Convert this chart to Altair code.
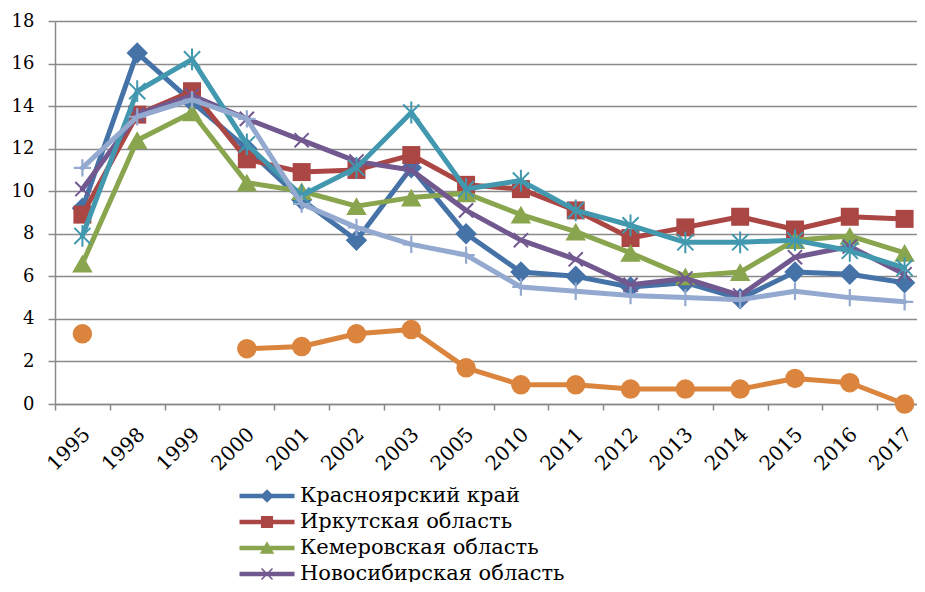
import altair as alt
import pandas as pd

years = ["1995", "1998", "1999", "2000", "2001", "2002", "2003", "2005",
         "2010", "2011", "2012", "2013", "2014", "2015", "2016", "2017"]
names = ["Красноярский край", "Иркутская область", "Кемеровская область",
         "Новосибирская область", "Омская область", "Томская область", "Алтайский край"]

krasnoyarsk = [9.2, 16.5, 14.2, 12.0, 9.6, 7.7, 11.1, 8.0, 6.2, 6.0, 5.5, 5.7, 4.95, 6.2, 6.1, 5.7]
irkutsk = [8.9, 13.6, 14.7, 11.5, 10.9, 11.0, 11.7, 10.3, 10.1, 9.1, 7.8, 8.3, 8.8, 8.2, 8.8, 8.7]
kemerovo = [6.6, 12.4, 13.7, 10.4, 10.0, 9.3, 9.7, 9.9, 8.9, 8.1, 7.1, 6.0, 6.2, 7.7, 7.9, 7.1]
novosibirsk = [10.1, 13.6, 14.5, 13.4, 12.4, 11.4, 11.0, 9.1, 7.7, 6.8, 5.6, 5.9, 5.1, 6.9, 7.4, 6.1]
series5 = [7.9, 14.7, 16.2, 12.2, 9.8, 11.1, 13.7, 10.1, 10.5, 9.1, 8.4, 7.6, 7.6, 7.7, 7.2, 6.4]
series6 = [3.3, None, None, 2.6, 2.7, 3.3, 3.5, 1.7, 0.9, 0.9, 0.7, 0.7, 0.7, 1.2, 1.0, 0.0]
series7 = [11.1, 13.5, 14.3, 13.4, 9.4, 8.3, 7.5, 7.0, 5.5, 5.3, 5.1, 5.0, 4.9, 5.3, 5.0, 4.8]

all_values = [krasnoyarsk, irkutsk, kemerovo, novosibirsk, series5, series6, series7]
colors = ["#4572A7", "#AA4643", "#89A54E", "#71588F", "#4198AF", "#DB843D", "#93A9CF"]

# marker styles per series: (shape, size, filled, strokeWidth)
markers = [
    ("diamond", 460, True, 0),
    ("square", 324, True, 0),
    ("triangle-up", 420, True, 0),
    ("M-1,-1L1,1M-1,1L1,-1", 200, False, 2),
    ("M-1,-1L1,1M-1,1L1,-1M0,-1.35L0,1.35", 260, False, 2),
    ("circle", 380, True, 0),
    ("M-1,0L1,0M0,-1L0,1", 300, False, 2.2),
]

line_bar = "M-2.5,-0.21H2.5V0.21H-2.5Z"
legend_paths = [
    line_bar + "M0,-0.62L0.62,0L0,0.62L-0.62,0Z",
    line_bar + "M-0.55,-0.55H0.55V0.55H-0.55Z",
    line_bar + "M0,-0.62L0.66,0.52H-0.66Z",
    line_bar + "M-0.55,-0.45L-0.45,-0.55L0.55,0.45L0.45,0.55Z"
               "M0.45,-0.55L0.55,-0.45L-0.45,0.55L-0.55,0.45Z",
    line_bar + "M-0.5,-0.5L0.5,0.5",
    line_bar + "M-0.5,0A0.5,0.5 0 1,1 0.5,0A0.5,0.5 0 1,1 -0.5,0Z",
    line_bar,
]

rows = []
for name, vals in zip(names, all_values):
    seg = 0
    gap = False
    for yr, v in zip(years, vals):
        if v is None:
            gap = True
            continue
        if gap:
            seg += 1
            gap = False
        rows.append({"year": yr, "series": name, "value": v, "seg": seg})
df = pd.DataFrame(rows)

FONT = "DejaVu Serif"
GRID = "#8A8A8A"

x_enc = alt.X(
    "year:O", sort=years,
    scale=alt.Scale(type="band", domain=years, paddingInner=0, paddingOuter=0, range=[0, 877]),
    bandPosition=0.5,
    axis=alt.Axis(title=None, labelAngle=-45, labelAlign="right", labelBaseline="middle",
                  tickBand="extent", grid=False, domainColor=GRID, domainWidth=1.5,
                  tickColor=GRID, tickWidth=1.5, tickSize=6, labelPadding=21, labelOffset=4,
                  labelFont=FONT, labelFontSize=20, labelColor="black"),
)
y_enc = alt.Y(
    "value:Q",
    scale=alt.Scale(domain=[0, 18], nice=False, zero=True),
    axis=alt.Axis(title=None, values=list(range(0, 19, 2)), grid=True, gridColor=GRID,
                  gridWidth=1.5, domainColor=GRID, domainWidth=1.5, tickColor=GRID,
                  tickWidth=1.5, tickSize=7, labelPadding=14, labelFont=FONT,
                  labelFontSize=18, labelColor="black"),
)

layers = []
for i, name in enumerate(names):
    sub = df[df["series"] == name]
    shape, size, filled, sw = markers[i]
    layers.append(
        alt.Chart(sub).mark_line(color=colors[i], strokeWidth=5, strokeJoin="round",
                                 strokeCap="round").encode(x=x_enc, y=y_enc, detail="seg:N")
    )
    if filled:
        pt = alt.Chart(sub).mark_point(shape=shape, size=size, filled=True, fill=colors[i],
                                       opacity=1, strokeWidth=0)
    else:
        pt = alt.Chart(sub).mark_point(shape=shape, size=size, filled=False, stroke=colors[i],
                                       opacity=1, strokeWidth=sw)
    layers.append(pt.encode(x=x_enc, y=y_enc))

legend = alt.Legend(title=None, orient="none", legendX=201, legendY=464, values=names[:4],
                    symbolSize=484, symbolStrokeWidth=0, symbolOpacity=1, labelFont=FONT,
                    labelFontSize=21, labelColor="black", labelOffset=22, rowPadding=5,
                    padding=0, labelLimit=0)

legend_layer = alt.Chart(df).transform_filter("datum.value > 100").mark_point(
    filled=True, opacity=1
).encode(
    x=x_enc, y=y_enc,
    color=alt.Color("series:N", scale=alt.Scale(domain=names, range=colors), legend=legend),
    shape=alt.Shape("series:N", scale=alt.Scale(domain=names, range=legend_paths), legend=legend),
)
layers.append(legend_layer)

chart = alt.layer(*layers).properties(
    width=862, height=383,
    autosize=alt.AutoSizeParams(type="none"),
    padding={"left": 47, "top": 13, "right": 0, "bottom": 178},
).configure_view(strokeWidth=0)

chart.save("out.html", embed_options={"renderer": "svg", "actions": False})
